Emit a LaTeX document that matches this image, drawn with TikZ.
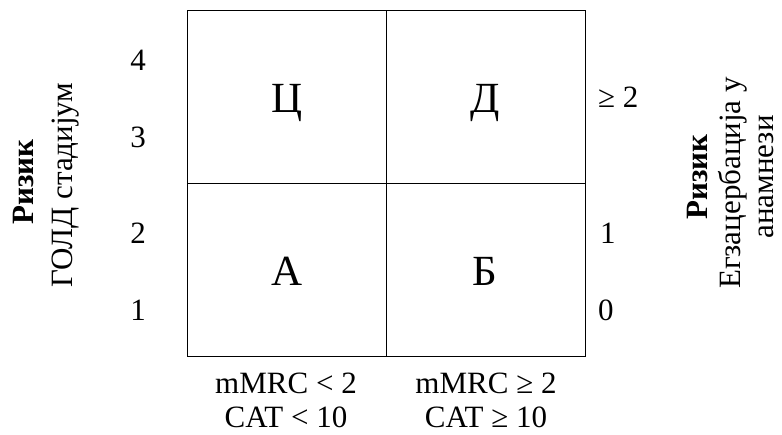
\documentclass[tikz,border=0pt]{standalone}
\usepackage{fontspec}
\setmainfont{Liberation Serif}
\begin{document}
\begin{tikzpicture}[x=1pt,y=-1pt,
  lbl/.style={inner sep=0pt,anchor=base,font=\fontsize{31}{37}\selectfont},
  rlbl/.style={inner sep=0pt,anchor=base west,font=\fontsize{31}{37}\selectfont},
  vlbl/.style={inner sep=0pt,anchor=base,rotate=90,font=\fontsize{31}{37}\selectfont},
  celltxt/.style={inner sep=0pt,anchor=base,font=\fontsize{43}{50}\selectfont},
  gridline/.style={draw=black,line width=1pt}]
\useasboundingbox (0,0) rectangle (782,434);
% grid
\draw[gridline] (187,10) rectangle (585,356);
\draw[gridline] (386,10) -- (386,356);
\draw[gridline] (187,183) -- (585,183);
% cell letters
\node[celltxt] (C) at (287,112) {Ц};
\node[celltxt] (D) at (485,112) {Д};
\node[celltxt] (A) at (287,285) {А};
\node[celltxt] (B) at (485,285) {Б};
% left values
\node[lbl] (l4) at (138,70) {4};
\node[lbl] (l3) at (138,147) {3};
\node[lbl] (l2) at (138,243) {2};
\node[lbl] (l1) at (138,320) {1};
% right values
\node[rlbl] (r2) at (598,107) {≥ 2};
\node[rlbl] (r1) at (600,243) {1};
\node[rlbl] (r0) at (598,320) {0};
% bottom labels
\node[lbl] (b1) at (286,393) {mMRC < 2};
\node[lbl] (b2) at (286,427) {CAT < 10};
\node[lbl] (b3) at (486,393) {mMRC ≥ 2};
\node[lbl] (b4) at (486,427) {CAT ≥ 10};
% left axis title
\node[vlbl] (lt1) at (33,182) {\bfseries Ризик};
\node[vlbl] (lt2) at (72,185) {ГОЛД стадијум};
% right axis title
\node[vlbl] (rt1) at (707,177) {\bfseries Ризик};
\node[vlbl] (rt2) at (740,183) {Егзацербација у};
\node[vlbl] (rt3) at (773,177) {анамнези};
\end{tikzpicture}
\end{document}
